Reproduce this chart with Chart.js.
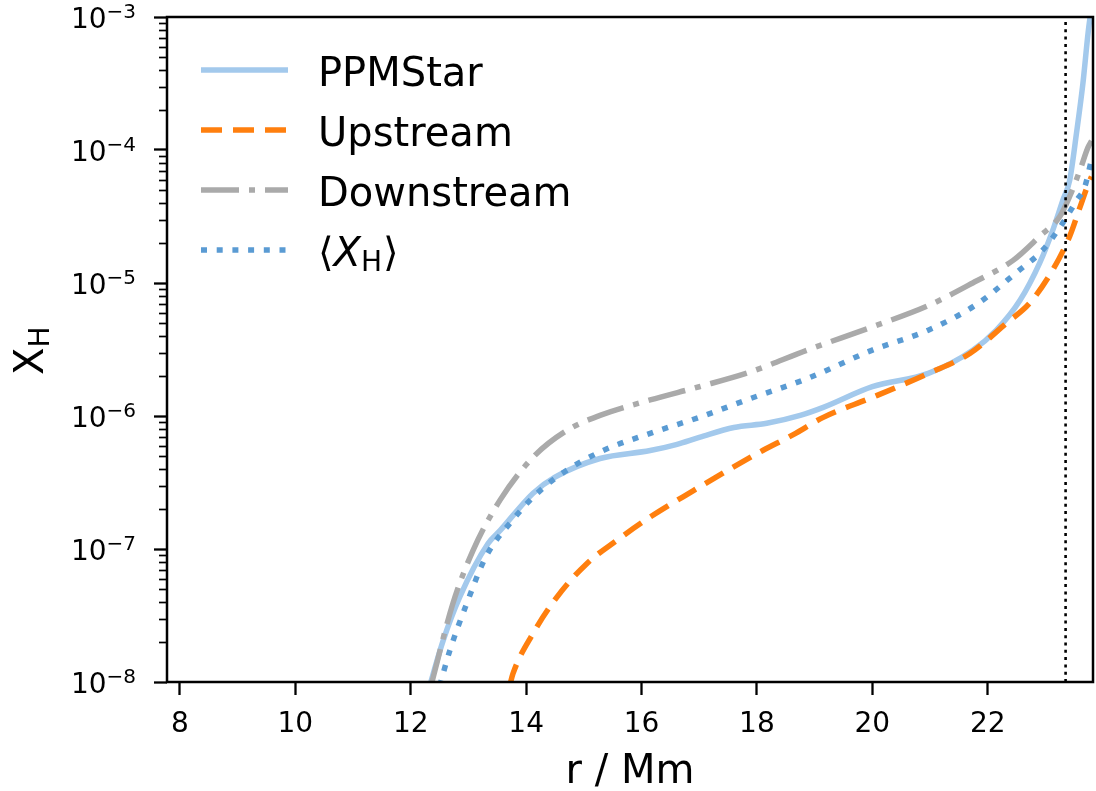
<!DOCTYPE html>
<html>
<head>
<meta charset="utf-8">
<script src="https://cdn.jsdelivr.net/npm/chart.js@4.4.1/dist/chart.umd.min.js"></script>
<style>
  html, body { margin: 0; padding: 0; background: #fff; }
</style>
</head>
<body>
<canvas id="xhChart" width="1096" height="791"></canvas>
<script>
// tick positions
const xTicks = [8, 10, 12, 14, 16, 18, 20, 22]
const yExponents = [-8, -7, -6, -5, -4, -3]

// PPMStar profile
const ppmR = [12.28, 12.56, 12.85, 13.34, 13.55, 14.12, 14.5, 15.28, 16.15, 16.6, 17.0, 17.6, 18.17, 18.75, 19.15, 20.0, 20.97, 21.74, 22.15, 22.56, 22.9, 23.13, 23.3, 23.42, 23.54, 23.65, 23.74, 23.79]
const ppmX = [7.9e-9, 2.04e-8, 4.37e-8, 1.10e-7, 1.38e-7, 2.63e-7, 3.47e-7, 4.79e-7, 5.50e-7, 6.1e-7, 6.9e-7, 8.2e-7, 8.81e-7, 1.01e-6, 1.16e-6, 1.66e-6, 2.09e-6, 3.12e-6, 4.42e-6, 7.41e-6, 1.41e-5, 2.51e-5, 4.17e-5, 5.89e-5, 1.35e-4, 3.16e-4, 7.59e-4, 1.12e-3]

// upstream
const upR = [13.72, 13.77, 14.12, 14.53, 15.05, 15.57, 16.15, 16.9, 17.58, 18.1, 18.63, 19.15, 20.0, 20.97, 21.69, 22.33, 22.73, 23.13, 23.42, 23.6, 23.74, 23.8]
const upX = [9.55e-9, 1.15e-8, 2.32e-8, 4.33e-8, 7.76e-8, 1.16e-7, 1.74e-7, 2.75e-7, 4.11e-7, 5.50e-7, 7.24e-7, 9.77e-7, 1.38e-6, 2.09e-6, 2.95e-6, 5.01e-6, 7.08e-6, 1.26e-5, 2.24e-5, 3.72e-5, 5.50e-5, 6.31e-5]

// downstream
const downR = [12.35, 12.73, 13.08, 13.55, 14.12, 14.7, 15.28, 16.15, 17.0, 17.88, 18.87, 20.0, 20.97, 21.74, 22.44, 22.9, 23.25, 23.42, 23.6, 23.74, 23.8]
const downX = [9.33e-9, 3.89e-8, 9.77e-8, 2.34e-7, 4.90e-7, 7.76e-7, 1.01e-6, 1.32e-6, 1.66e-6, 2.14e-6, 3.13e-6, 4.68e-6, 6.76e-6, 1.0e-5, 1.48e-5, 2.24e-5, 3.16e-5, 4.47e-5, 7.08e-5, 1.05e-4, 1.17e-4]

// mean <X_H>
const meanR = [12.5, 12.68, 12.97, 13.3, 13.77, 14.12, 14.53, 15.28, 16.15, 17.0, 17.88, 18.87, 20.0, 20.97, 21.81, 22.5, 22.96, 23.3, 23.54, 23.68, 23.8]
const meanX = [9.33e-9, 1.74e-8, 3.89e-8, 8.71e-8, 1.66e-7, 2.45e-7, 3.47e-7, 5.37e-7, 7.41e-7, 9.77e-7, 1.35e-6, 1.91e-6, 3.13e-6, 4.42e-6, 6.92e-6, 1.20e-5, 1.78e-5, 2.82e-5, 4.17e-5, 5.25e-5, 8.51e-5]

// boundary marker
const boundaryR = 23.35

const FONT = '"DejaVu Sans", sans-serif'
const toPoints = (rs, xs) => rs.map((r, i) => ({ x: r, y: xs[i] }))

const curve = (label, rs, xs, color, dash, order) => ({
  label,
  data: toPoints(rs, xs),
  borderColor: color,
  borderWidth: 5.5,
  borderDash: dash,
  borderCapStyle: 'butt',
  borderJoinStyle: 'round',
  cubicInterpolationMode: 'monotone',
  pointRadius: 0,
  clip: 0,
  order
})

const datasets = [
  curve('PPMStar', ppmR, ppmX, '#a3c9ec', [], 5),
  curve('Upstream', upR, upX, '#ff7f0e', [21, 11], 4),
  curve('Downstream', downR, downX, '#aaaaaa', [38, 10, 6, 10], 3),
  curve('mean', meanR, meanX, '#5a9bd3', [6, 9.7], 2),
  {
    label: 'boundary',
    data: [{ x: boundaryR, y: 1e-8 }, { x: boundaryR, y: 1e-3 }],
    borderColor: '#000',
    borderWidth: 2.6,
    borderDash: [3, 4.3],
    pointRadius: 0,
    clip: 0,
    order: 1
  }
]

// frame, minor ticks, tick labels, y title and legend
const decorations = {
  id: 'decorations',
  afterDraw(chart) {
    const { ctx, chartArea: a, scales: { x, y } } = chart
    ctx.save()
    ctx.strokeStyle = '#000'
    ctx.fillStyle = '#000'

    // minor log ticks
    ctx.lineWidth = 1.7
    for (let i = 0; i < yExponents.length - 1; i++) {
      for (let m = 2; m <= 9; m++) {
        const py = Math.round(y.getPixelForValue(m * Math.pow(10, yExponents[i]))) + 0.5
        ctx.beginPath()
        ctx.moveTo(a.left - 8, py)
        ctx.lineTo(a.left, py)
        ctx.stroke()
      }
    }

    // frame
    ctx.lineWidth = 2.5
    ctx.strokeRect(a.left, a.top, a.right - a.left, a.bottom - a.top)

    // x tick labels
    ctx.textAlign = 'center'
    ctx.textBaseline = 'alphabetic'
    ctx.font = `28px ${FONT}`
    xTicks.forEach(v => ctx.fillText(String(v), x.getPixelForValue(v), a.bottom + 50))

    // y tick labels 10^n
    ctx.textAlign = 'right'
    yExponents.forEach(e => {
      const py = y.getPixelForValue(Math.pow(10, e))
      const sup = '\u2212' + Math.abs(e)
      ctx.font = `20px ${FONT}`
      const sw = ctx.measureText(sup).width
      ctx.fillText(sup, 136, py + 0.5)
      ctx.font = `28px ${FONT}`
      ctx.fillText('10', 136 - sw, py + 11)
    })

    // y axis title X_H
    ctx.save()
    ctx.translate(43, 375)
    ctx.rotate(-Math.PI / 2)
    ctx.textAlign = 'left'
    ctx.font = `40px ${FONT}`
    ctx.fillText('X', 0, 0)
    const xw = ctx.measureText('X').width
    ctx.font = `28px ${FONT}`
    ctx.fillText('H', xw, 6)
    ctx.restore()

    // legend
    chart.data.datasets.slice(0, 4).forEach((ds, i) => {
      const ly = 70 + 60 * i
      ctx.save()
      ctx.strokeStyle = ds.borderColor
      ctx.lineWidth = ds.borderWidth
      ctx.lineCap = 'butt'
      ctx.setLineDash(ds.borderDash)
      ctx.beginPath()
      ctx.moveTo(201, ly)
      ctx.lineTo(288, ly)
      ctx.stroke()
      ctx.restore()

      ctx.textAlign = 'left'
      const base = ly + 15.5
      if (ds.label === 'mean') {
        let tx = 318
        ctx.font = `40px ${FONT}`
        ctx.fillText('\u27E8', tx, base)
        tx += ctx.measureText('\u27E8').width
        ctx.font = `italic 40px ${FONT}`
        ctx.fillText('X', tx, base)
        tx += ctx.measureText('X').width
        ctx.font = `28px ${FONT}`
        ctx.fillText('H', tx, base + 5)
        tx += ctx.measureText('H').width + 1
        ctx.font = `40px ${FONT}`
        ctx.fillText('\u27E9', tx, base)
      } else {
        ctx.font = `40px ${FONT}`
        ctx.fillText(ds.label, 318, base)
      }
    })
    ctx.restore()
  }
}

const chart = new Chart(document.getElementById('xhChart'), {
  type: 'line',
  data: { datasets },
  plugins: [decorations],
  options: {
    responsive: false,
    animation: false,
    devicePixelRatio: 1,
    layout: { padding: { top: 17, right: 3, left: 0, bottom: 0 } },
    plugins: { legend: { display: false }, tooltip: { enabled: false } },
    scales: {
      x: {
        type: 'linear',
        min: 7.775,
        max: 23.825,
        afterBuildTicks: s => { s.ticks = xTicks.map(v => ({ value: v })) },
        afterFit: s => { s.height = 109 },
        border: { display: false },
        grid: { drawOnChartArea: false, drawTicks: true, tickLength: 13, tickWidth: 2.3, tickColor: '#000' },
        ticks: { display: false },
        title: { display: true, text: 'r / Mm', color: '#000', font: { family: FONT, size: 40, lineHeight: 0.9 }, padding: { top: 0, bottom: 0 } }
      },
      y: {
        type: 'logarithmic',
        min: 1e-8,
        max: 1e-3,
        afterBuildTicks: s => { s.ticks = yExponents.map(e => ({ value: Math.pow(10, e) })) },
        afterFit: s => { s.width = 167 },
        border: { display: false },
        grid: { drawOnChartArea: false, drawTicks: true, tickLength: 13, tickWidth: 2.3, tickColor: '#000' },
        ticks: { display: false }
      }
    }
  }
})
</script>
</body>
</html>
